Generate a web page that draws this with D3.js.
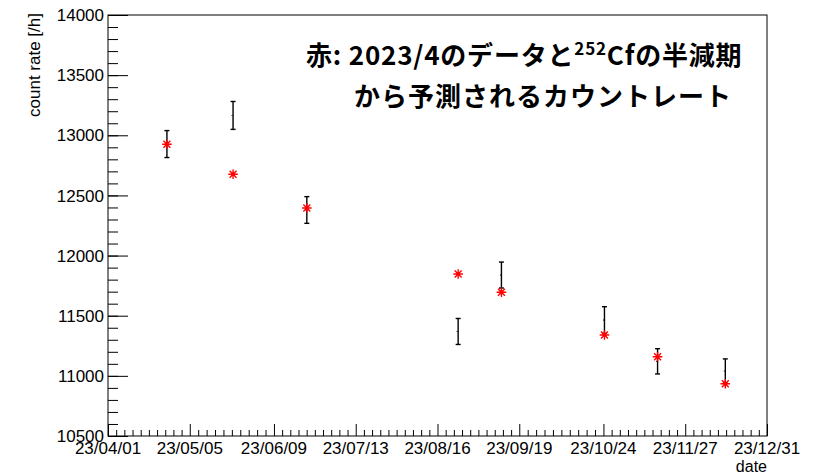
<!DOCTYPE html>
<html>
<head>
<meta charset="utf-8">
<script src="https://cdn.jsdelivr.net/npm/d3@7"></script>
<style>
  html, body { margin: 0; padding: 0; background: #fff; }
  svg { display: block; }
</style>
</head>
<body>
<svg id="chart" width="821" height="473"></svg>
<script>
// Measured count rate (black, with error bars) and the rate predicted from the
// April 2023 measurement using the 252Cf half-life (red stars).
const measDates = ["2023-04-25T12:00", "2023-05-23T00:00", "2023-06-22T16:00", "2023-08-24T14:00",
                   "2023-09-11T14:00", "2023-10-24T10:00", "2023-11-15T12:00", "2023-12-13T16:00"];
const measRate  = [12927, 13165, 12379, 11369, 11838, 11464, 11121, 11040];
const measErr   = [112, 116, 111, 108, 108, 111, 105, 101];
const predRate  = [12925, 12676, 12395, 11847, 11695, 11340, 11159, 10935];

// Axis ranges and tick labels
const xRange = ["2023-04-01T00:00", "2023-12-31T00:00"];
const xTickDates  = ["2023-04-01T00:00", "2023-05-05T00:00", "2023-06-09T00:00", "2023-07-13T00:00",
                     "2023-08-16T00:00", "2023-09-19T00:00", "2023-10-24T00:00", "2023-11-27T00:00",
                     "2023-12-31T00:00"];
const xTickLabels = ["23/04/01", "23/05/05", "23/06/09", "23/07/13", "23/08/16",
                     "23/09/19", "23/10/24", "23/11/27", "23/12/31"];
const yRange = [10500, 14000];
const yTicks = [10500, 11000, 11500, 12000, 12500, 13000, 13500, 14000];

const parse = d3.timeParse("%Y-%m-%dT%H:%M");
const svg = d3.select("#chart");

const frame = { left: 108, right: 767, top: 15, bottom: 436 };
const x = d3.scaleTime().domain(xRange.map(parse)).range([frame.left, frame.right]);
const y = d3.scaleLinear().domain(yRange).range([frame.bottom, frame.top]);

const axisFont = "'Liberation Sans', Arial, Helvetica, sans-serif";

// frame
svg.append("rect")
  .attr("x", frame.left).attr("y", frame.top)
  .attr("width", frame.right - frame.left).attr("height", frame.bottom - frame.top)
  .attr("fill", "none").attr("stroke", "#000").attr("stroke-width", 1);

// Y axis: major every 500, minor every 100
const yMinor = d3.range(yRange[0], yRange[1] + 1, 100);
const yAxisMinor = d3.axisRight(y).tickValues(yMinor).tickSize(10).tickFormat("");
const yAxisMajor = d3.axisRight(y).tickValues(yTicks).tickSize(20).tickFormat("");
[yAxisMinor, yAxisMajor].forEach(ax => {
  const g = svg.append("g").attr("transform", `translate(${frame.left},0)`).call(ax);
  g.select(".domain").remove();
  g.selectAll("line").attr("stroke", "#000").attr("stroke-width", 1);
});
svg.append("g").selectAll("text").data(yTicks).join("text")
  .attr("x", frame.left - 4).attr("y", d => y(d))
  .attr("dy", "0.36em")
  .attr("text-anchor", "end")
  .style("font-family", axisFont).style("font-size", "17px")
  .text(d => d);

// X axis: labelled major ticks, ten subdivisions between them
const xMajor = xTickDates.map(parse);
const xMinor = [];
for (let i = 0; i < xMajor.length - 1; i++) {
  const a = +xMajor[i], b = +xMajor[i + 1];
  for (let k = 1; k < 10; k++) xMinor.push(new Date(a + (b - a) * k / 10));
}
const xAxisMinor = d3.axisTop(x).tickValues(xMinor).tickSize(6).tickFormat("");
const xAxisMajor = d3.axisTop(x).tickValues(xMajor).tickSize(12).tickFormat("");
[xAxisMinor, xAxisMajor].forEach(ax => {
  const g = svg.append("g").attr("transform", `translate(0,${frame.bottom})`).call(ax);
  g.select(".domain").remove();
  g.selectAll("line").attr("stroke", "#000").attr("stroke-width", 1);
});
svg.append("g").selectAll("text").data(xMajor).join("text")
  .attr("x", d => x(d)).attr("y", 454)
  .attr("text-anchor", "middle")
  .style("font-family", axisFont).style("font-size", "17px")
  .text((d, i) => xTickLabels[i]);

// axis titles
svg.append("text")
  .attr("transform", `translate(40,13) rotate(-90)`)
  .attr("text-anchor", "end")
  .style("font-family", axisFont).style("font-size", "17px")
  .text("count rate [/h]");
svg.append("text")
  .attr("x", frame.right).attr("y", 472)
  .attr("text-anchor", "end")
  .style("font-family", axisFont).style("font-size", "16px")
  .text("date");

// measured points with error bars
const meas = measDates.map((d, i) => ({ t: parse(d), v: measRate[i], e: measErr[i] }));
const gm = svg.append("g");
meas.forEach(p => {
  const cx = x(p.t), y0 = y(p.v - p.e), y1 = y(p.v + p.e);
  gm.append("line").attr("x1", cx).attr("x2", cx).attr("y1", y0).attr("y2", y1)
    .attr("stroke", "#000").attr("stroke-width", 1.4);
  [y0, y1].forEach(yy => gm.append("line")
    .attr("x1", cx - 2.5).attr("x2", cx + 2.5).attr("y1", yy).attr("y2", yy)
    .attr("stroke", "#000").attr("stroke-width", 1.4));
  gm.append("rect").attr("x", cx - 1.5).attr("y", y(p.v) - 0.5)
    .attr("width", 1).attr("height", 1).attr("fill", "#000");
});

// predicted rate, asterisk markers
const r = 4.8, rd = r * 0.72;
const star = `M${-r},0L${r},0M0,${-r}L0,${r}M${-rd},${-rd}L${rd},${rd}M${-rd},${rd}L${rd},${-rd}`;
svg.append("g").selectAll("path").data(measDates.map((d, i) => ({ t: parse(d), v: predRate[i] })))
  .join("path")
  .attr("transform", d => `translate(${x(d.t)},${y(d.v)})`)
  .attr("d", star)
  .attr("fill", "none").attr("stroke", "#ff0000").attr("stroke-width", 1.4);

// annotation
const jpFont = "'Noto Sans CJK JP', 'Noto Sans', sans-serif";
const note = svg.append("g")
  .style("font-family", jpFont).style("font-weight", 700).style("font-size", "26px")
  .attr("fill", "#000");
const l1 = note.append("text").attr("x", 306).attr("y", 64.5).style("letter-spacing", "0.8px");
l1.append("tspan").text("赤: 2023/4のデータと");
l1.append("tspan").attr("dy", -10).style("font-size", "17px").text("252");
l1.append("tspan").attr("dy", 10).text("Cfの半減期");
note.append("text").attr("x", 354).attr("y", 106).style("letter-spacing", "1px")
  .text("から予測されるカウントレート");
</script>
</body>
</html>
